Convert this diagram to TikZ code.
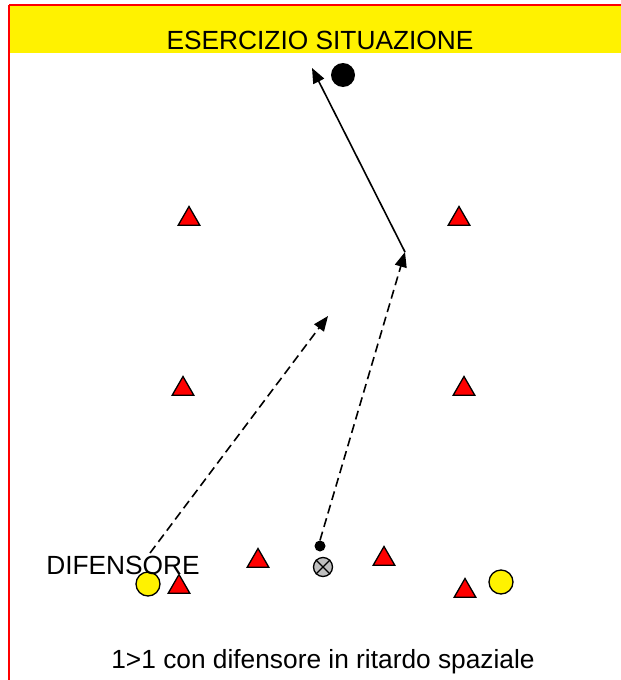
\documentclass[tikz,border=0pt]{standalone}
\usepackage{fontspec}
\setmainfont{Liberation Sans}
\usetikzlibrary{arrows.meta,shapes.geometric}
\begin{document}
\begin{tikzpicture}[x=1pt,y=-1pt,
 cone/.style={regular polygon,regular polygon sides=3,draw=black,fill=red,line width=1.3pt,minimum size=25pt,inner sep=0pt},
 player/.style={circle,draw=black,fill=yellow,line width=1.3pt,minimum size=24pt,inner sep=0pt},
 lbl/.style={font=\fontsize{26.3}{30}\selectfont,inner sep=0pt},
 run/.style={dash pattern=on 9pt off 5pt,line width=1.6pt,-{Triangle[length=15pt,width=12pt]}},
 pass/.style={line width=1.6pt,-{Triangle[length=15pt,width=12pt]}}]
\useasboundingbox (0,0) rectangle (621,680);
\fill[yellow] (9,5) rectangle (625,53);
\draw[red,line width=2pt] (9,5) -- (625,5) (9,5) -- (9,685);
\node[lbl] (title) at (320,40) {ESERCIZIO SITUAZIONE};
\node[lbl] (caption) at (323,662) {1>1 con difensore in ritardo spaziale};
% cones
\node[cone] (c1) at (189,219) {};
\node[cone] (c2) at (459,219) {};
\node[cone] (c3) at (183,389) {};
\node[cone] (c4) at (464,389) {};
\node[cone] (c5) at (258,561) {};
\node[cone] (c6) at (384,559) {};
\node[cone] (c7) at (179,587) {};
\node[cone] (c8) at (465,591) {};
% ball
\node[circle,fill=black,minimum size=24pt,inner sep=0pt] (ball) at (343,75) {};
\node[circle,fill=black,minimum size=11pt,inner sep=0pt] (sball) at (320,546) {};
% attacker
\node[circle,draw=black,fill=gray!50,line width=1.3pt,minimum size=19pt,inner sep=0pt] (att) at (323,567) {};
\draw[line width=1.3pt] (att.45) -- (att.225) (att.135) -- (att.-45);
% defenders
\node[player] (d1) at (148,584) {};
\node[player] (d2) at (501,582) {};
\node[lbl] (dlabel) at (123,565) {DIFENSORE};
% arrows
\coordinate (r1s) at (150,553);
\coordinate (r1e) at (328,316);
\coordinate (r2e) at (405,252);
\coordinate (pe) at (312,68);
\draw[run] (r1s) -- (r1e);
\draw[run] (sball.north) -- (r2e);
\draw[pass] (r2e) -- (pe);
\end{tikzpicture}
\end{document}
